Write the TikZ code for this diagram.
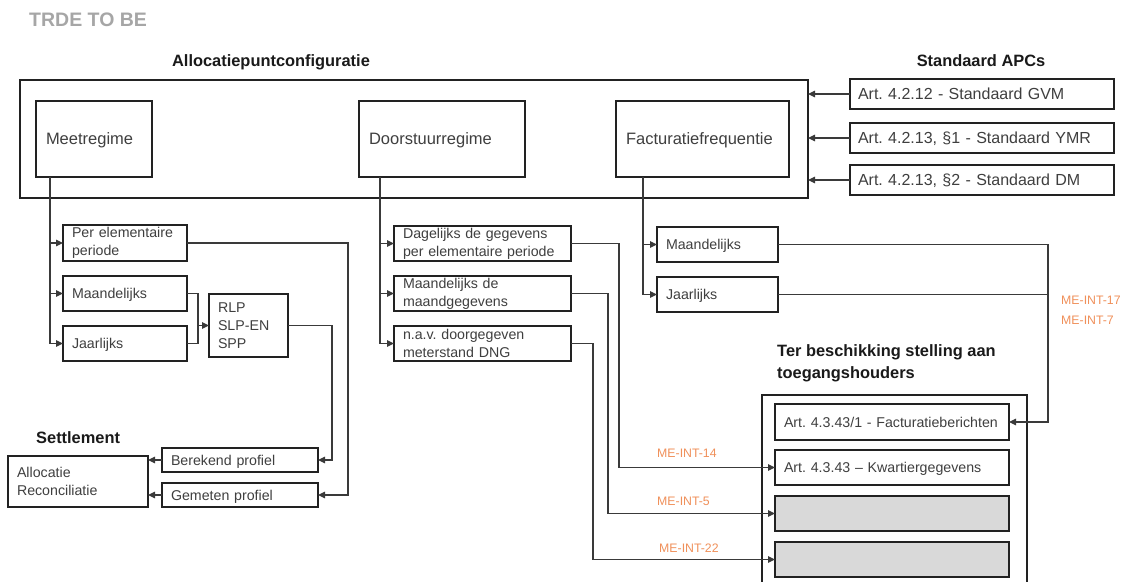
\documentclass[tikz,border=0pt]{standalone}
\usepackage{fontspec}
\setmainfont{Liberation Sans}
\usetikzlibrary{arrows.meta}
\definecolor{ln}{HTML}{222222}
\definecolor{cn}{HTML}{3A3A3A}
\definecolor{tx}{HTML}{3F3F3F}
\definecolor{hd}{HTML}{1A1A1A}
\definecolor{org}{HTML}{F0905A}
\definecolor{ttl}{HTML}{A6A6A6}
\definecolor{fillg}{HTML}{D9D9D9}
\newcommand\fmainx{\fontsize{16.5}{20}\selectfont\frenchspacing}
\newcommand\fapcx{\fontsize{16}{19}\selectfont\frenchspacing}
\newcommand\fsubx{\fontsize{14.2}{18}\selectfont\frenchspacing}
\newcommand\fheadx{\fontsize{16.4}{22}\selectfont\bfseries}
\newcommand\flabx{\fontsize{12.3}{15}\selectfont}
\begin{document}
\begin{tikzpicture}[x=1pt,y=-1pt,
  box/.style={draw=ln, line width=1.6pt, anchor=north west, inner ysep=0pt, outer sep=0pt, align=left, text=tx},
  oneline/.style={text depth=0pt},
  mainbox/.style={box, oneline, font=\fmainx, inner xsep=10pt, minimum height=76pt},
  apcbox/.style={box, oneline, font=\fapcx, inner xsep=8pt, minimum width=264pt, text width=248pt, minimum height=30pt},
  subbox/.style={box, font=\fsubx, inner xsep=9pt, line width=1.5pt},
  head/.style={font=\fheadx, text=hd, inner sep=0pt, align=left},
  lab/.style={font=\flabx, text=org, inner sep=0pt, anchor=west},
  conn/.style={draw=cn, line width=1.1pt},
  arr/.style={conn, -{Triangle[length=7pt,width=6.5pt]}}]
\clip (0,0) rectangle (1131,581);
\fill[white] (0,0) rectangle (1131,581);

% title and headings
\node[head, text=ttl, font=\fontsize{19.5}{22}\selectfont\bfseries, anchor=west] (title) at (29,20) {TRDE TO BE};
\node[head] (hAPC) at (271,62) {Allocatiepuntconfiguratie};
\node[head] (hStd) at (981,61) {Standaard APCs};
\node[head, anchor=west] (hSet) at (36,438) {Settlement};
\node[head, anchor=north west] (hTer) at (777,344) {Ter beschikking stelling aan\\toegangshouders};

% allocatiepuntconfiguratie
\node[box, minimum width=788pt, minimum height=118pt] (apc) at (20,80) {};
\node[mainbox, minimum width=116pt, text width=96pt] (meet) at (36,101) {Meetregime};
\node[mainbox, minimum width=166pt, text width=146pt] (door) at (359,101) {Doorstuurregime};
\node[mainbox, minimum width=173pt, text width=153pt] (fact) at (616,101) {Facturatiefrequentie};

% standaard APCs
\node[apcbox] (gvm) at (850,79) {Art. 4.2.12 - Standaard GVM};
\node[apcbox] (ymr) at (850,123) {Art. 4.2.13, §1 - Standaard YMR};
\node[apcbox] (dm) at (850,165) {Art. 4.2.13, §2 - Standaard DM};

% meetregime branch
\node[subbox, minimum width=124pt, text width=106pt, minimum height=36pt] (perel) at (63,225) {Per elementaire\\periode};
\node[subbox, oneline, minimum width=124pt, text width=106pt, minimum height=35pt] (mM) at (63,276) {Maandelijks};
\node[subbox, oneline, minimum width=124pt, text width=106pt, minimum height=35pt] (mJ) at (63,326) {Jaarlijks};
\node[subbox, minimum width=79pt, text width=61pt, minimum height=63pt] (rlp) at (209,294) {RLP\\SLP-EN\\SPP};

% settlement
\node[subbox, oneline, minimum width=156pt, text width=138pt, minimum height=24pt] (berek) at (162,448) {Berekend profiel};
\node[subbox, oneline, minimum width=156pt, text width=138pt, minimum height=24pt] (gemet) at (162,483) {Gemeten profiel};
\node[subbox, minimum width=140pt, text width=122pt, minimum height=51pt] (alloc) at (8,456) {Allocatie\\Reconciliatie};

% doorstuurregime branch
\node[subbox, minimum width=177pt, text width=159pt, minimum height=35pt] (dag) at (394,226) {Dagelijks de gegevens\\per elementaire periode};
\node[subbox, minimum width=177pt, text width=159pt, minimum height=35pt] (dmaand) at (394,276) {Maandelijks de\\maandgegevens};
\node[subbox, minimum width=177pt, text width=159pt, minimum height=35pt] (dnav) at (394,326) {n.a.v. doorgegeven\\meterstand DNG};

% facturatiefrequentie branch
\node[subbox, oneline, minimum width=121pt, text width=103pt, minimum height=35pt] (fM) at (657,227) {Maandelijks};
\node[subbox, oneline, minimum width=121pt, text width=103pt, minimum height=35pt] (fJ) at (657,277) {Jaarlijks};

% ter beschikking
\node[box, minimum width=265pt, minimum height=220pt] (ter) at (762,395) {};
\node[subbox, oneline, minimum width=234pt, text width=216pt, minimum height=36pt] (fber) at (775,404) {\mbox{Art. 4.3.43/1 - Facturatieberichten}};
\node[subbox, oneline, minimum width=234pt, text width=216pt, minimum height=35pt] (kwart) at (775,450) {Art. 4.3.43 – Kwartiergegevens};
\node[subbox, fill=fillg, minimum width=234pt, minimum height=35pt] (gA) at (775,496) {};
\node[subbox, fill=fillg, minimum width=234pt, minimum height=35pt] (gB) at (775,542) {};

% labels
\node[lab] (l14) at (657,453) {ME-INT-14};
\node[lab] (l5) at (657,501) {ME-INT-5};
\node[lab] (l22) at (659,548) {ME-INT-22};
\node[lab] (l17) at (1061,300) {ME-INT-17};
\node[lab] (l7) at (1061,320) {ME-INT-7};

% APC arrows
\draw[arr] (gvm.west) -- (gvm.west -| apc.east);
\draw[arr] (ymr.west) -- (ymr.west -| apc.east);
\draw[arr] (dm.west) -- (dm.west -| apc.east);

% meetregime connectors
\draw[arr] ([xshift=14pt]meet.south west) |- (perel.west);
\draw[arr] ([xshift=14pt]meet.south west) |- (mM.west);
\draw[arr] ([xshift=14pt]meet.south west) |- (mJ.west);
\coordinate (m1) at ([xshift=11pt]mM.east);
\draw[conn] (mM.east) -| (m1 |- mJ.east) -- (mJ.east);
\draw[arr] (m1 |- rlp.west) -- (rlp.west);
\coordinate (r1) at ([xshift=14pt]berek.east);
\draw[arr] (rlp.east) -| (r1) -- (berek.east);
\coordinate (p1) at ([xshift=30pt]gemet.east);
\draw[arr] (perel.east) -| (p1) -- (gemet.east);
\draw[arr] (berek.west) -- (berek.west -| alloc.east);
\draw[arr] (gemet.west) -- (gemet.west -| alloc.east);

% doorstuurregime connectors
\draw[arr] ([xshift=21pt]door.south west) |- (dag.west);
\draw[arr] ([xshift=21pt]door.south west) |- (dmaand.west);
\draw[arr] ([xshift=21pt]door.south west) |- (dnav.west);
\coordinate (d1) at ([xshift=-156pt]kwart.west);
\draw[arr] (dag.east) -| (d1) -- (kwart.west);
\coordinate (d2) at ([xshift=-167pt]gA.west);
\draw[arr] (dmaand.east) -| (d2) -- (gA.west);
\coordinate (d3) at ([xshift=-182pt]gB.west);
\draw[arr] (dnav.east) -| (d3) -- (gB.west);

% facturatiefrequentie connectors
\draw[arr] ([xshift=27pt]fact.south west) |- (fM.west);
\draw[arr] ([xshift=27pt]fact.south west) |- (fJ.west);
\coordinate (f1) at ([xshift=39pt]fber.east);
\draw[arr] (fM.east) -| (f1) -- (fber.east);
\draw[conn] (fJ.east) -- (fJ.east -| f1);
\end{tikzpicture}
\end{document}
